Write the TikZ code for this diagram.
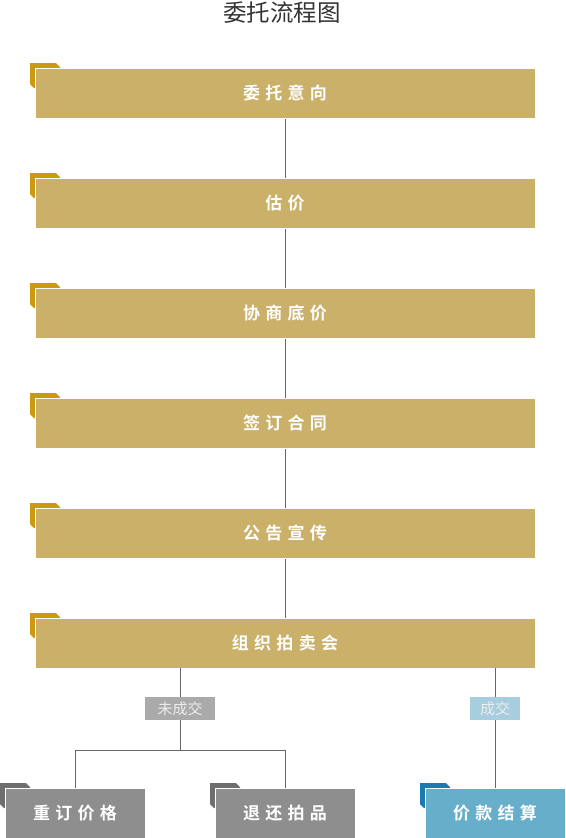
\documentclass[tikz,border=0pt]{standalone}
\usepackage{fontspec}
\newfontfamily\cjk{Noto Sans CJK SC}
\newfontfamily\cjkbold[LetterSpace=31]{Noto Sans CJK SC Bold}
\definecolor{gold}{HTML}{CBB06A}
\definecolor{golddark}{HTML}{CC9A10}
\definecolor{greybox}{HTML}{8E8E8E}
\definecolor{greydark}{HTML}{6E6E6E}
\definecolor{bluebox}{HTML}{67AECB}
\definecolor{bluedark}{HTML}{1B7BB0}
\definecolor{lblgrey}{HTML}{AAAAAA}
\definecolor{lblblue}{HTML}{A6CEDF}
\definecolor{linec}{HTML}{666666}
\definecolor{titlec}{HTML}{333333}
\tikzset{
  stepbox/.style={anchor=north west, draw=white, line width=0.8pt, minimum height=50pt, inner sep=0pt, text=white, font=\cjkbold\fontsize{17pt}{19pt}\selectfont},
  lbl/.style={inner sep=0pt, minimum height=23pt, text={white!93!black}, font=\cjk\fontsize{15pt}{17pt}\selectfont},
  conn/.style={draw=linec, line width=0.8pt},
}
% name, x, y, width, fill, dark, text
\newcommand\mkbox[7]{%
  \fill[#6] ({#2-5},{#3-5}) -- ({#2+21},{#3-5}) -- ({#2+25},{#3-1}) -- ({#2+25},{#3+20}) -- ({#2-1},{#3+20}) -- ({#2-5},{#3+16}) -- cycle;
  \node[stepbox, fill=#5, minimum width=#4pt] (#1) at (#2-0.4,#3-0.4) {#7};
}
\begin{document}
\begin{tikzpicture}[x=1pt,y=-1pt]
\useasboundingbox (0,0) rectangle (565,838);
\node[text=titlec, font=\cjk\fontsize{23.5pt}{25pt}\selectfont] (title) at (282,13) {委托流程图};
% vertical trunk first (under boxes)
\coordinate (t1) at (285,118);
\coordinate (t6) at (285,618);
\draw[conn] (t1) -- (t6);
\mkbox{b1}{35}{68}{500}{gold}{golddark}{委托意向}
\mkbox{b2}{35}{178}{500}{gold}{golddark}{估价}
\mkbox{b3}{35}{288}{500}{gold}{golddark}{协商底价}
\mkbox{b4}{35}{398}{500}{gold}{golddark}{签订合同}
\mkbox{b5}{35}{508}{500}{gold}{golddark}{公告宣传}
\mkbox{b6}{35}{618}{500}{gold}{golddark}{组织拍卖会}
% branches
\coordinate (s1) at (180,668);
\coordinate (j1) at (180,750);
\coordinate (jl) at (75,750);
\coordinate (jr) at (285,750);
\coordinate (s2) at (495,668);
\draw[conn] (s1) -- (j1);
\draw[conn] (jl) -- (jr);
\draw[conn] (jl) -- (75,788);
\draw[conn] (jr) -- (285,788);
\draw[conn] (s2) -- (495,788);
\node[lbl, fill=lblgrey, minimum width=70pt] (l1) at (180,708.5) {未成交};
\node[lbl, fill=lblblue, minimum width=50pt] (l2) at (495,708.5) {成交};
\mkbox{c1}{5}{788}{140}{greybox}{greydark}{重订价格}
\mkbox{c2}{215}{788}{140}{greybox}{greydark}{退还拍品}
\mkbox{c3}{425}{788}{140}{bluebox}{bluedark}{价款结算}
\end{tikzpicture}
\end{document}
